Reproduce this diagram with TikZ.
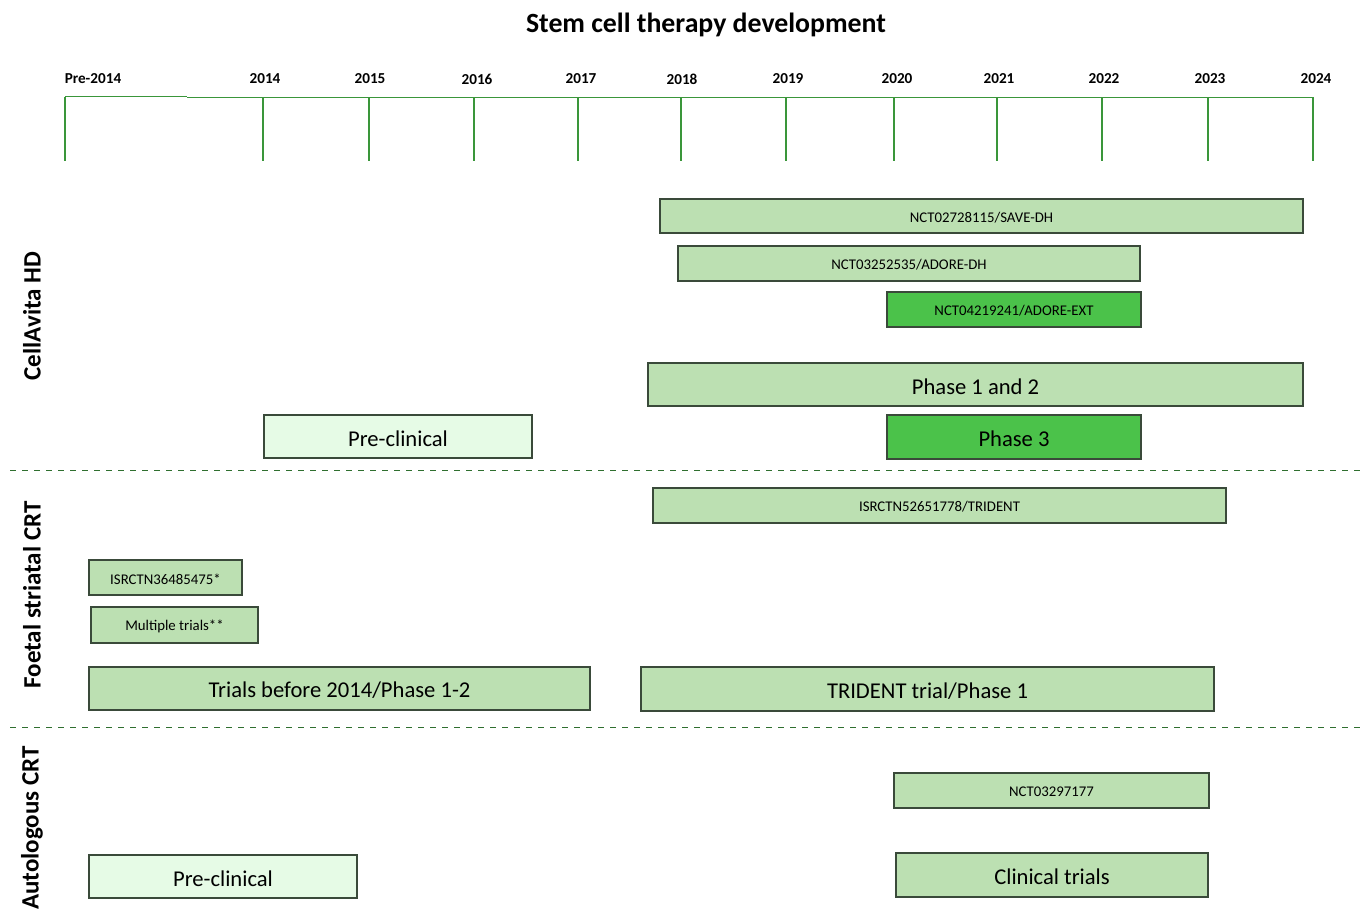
\documentclass[tikz,border=0pt]{standalone}
\usepackage{fontspec}
\setmainfont{Carlito}
\usepackage{tikz}
\usetikzlibrary{positioning,fit}

\definecolor{axisgreen}{HTML}{3A963A}
\definecolor{dashgreen}{HTML}{2F6F2F}
\definecolor{boxedge}{HTML}{3A4A3A}
\definecolor{paleG}{HTML}{BCE0B2}
\definecolor{midG}{HTML}{4BC24A}
\definecolor{faintG}{HTML}{E6FBE6}

\begin{document}
\begin{tikzpicture}[x=0.5pt,y=-0.5pt, line cap=butt, line join=miter]
	\useasboundingbox (0,0) rectangle (1364,922);
	
	% ===== styles =====
	\tikzset{
		seg/.style={draw=boxedge, line width=0.65pt, inner sep=0pt, fill=paleG},
		segdark/.style={seg, fill=midG},
		segfaint/.style={seg, fill=faintG},
		smalltxt/.style={font=\fontsize{7.4}{8.5}\selectfont, yshift=-0.8pt},
		bigtxt/.style={font=\fontsize{11.3}{13}\selectfont, yshift=-1pt},
		yearlab/.style={font=\bfseries\fontsize{7.6}{9}\selectfont},
		sidelab/.style={font=\bfseries\fontsize{12.5}{14}\selectfont, rotate=90},
		axis/.style={axisgreen, line width=0.6pt}
	}
	
	% ===== title =====
	\node[font=\bfseries\fontsize{13.9}{16}\selectfont] (title) at (706,25) {Stem cell therapy development};
	
	% ===== time axis =====
	\draw[axis] (65,96.5) -- (187,96.5);
	\draw[axis] (187,97.5) -- (1313,97.5);
	\foreach \x in {65,263,369,474,578,681,786,894,997,1102,1208,1313}{
		\draw[axis] (\x,97) -- (\x,161);
	}
	\foreach \x/\yr [count=\i] in {93/Pre-2014,265/2014,370/2015,477/2016,581/2017,682/2018,788/2019,897/2020,999/2021,1104/2022,1210/2023,1316/2024}{
		\node[yearlab] (yr\i) at (\x,79) {\yr};
	}
	
	% ===== row separators =====
	\draw[dashgreen, dashed, line width=0.5pt] (10,470) -- (1364,470);
	\draw[dashgreen, dashed, line width=0.5pt] (10,727) -- (1364,727);
	
	% ===== row labels =====
	\node[sidelab] (cellavita) at (32,316) {CellAvita HD};
	\node[sidelab] (foetal) at (32,595) {Foetal striatal CRT};
	\node[sidelab] (autolog) at (32,828) {Autologous CRT};
	
	% ===== CellAvita HD =====
	\node[seg, fit={(660,199) (1303,233)}, label={[smalltxt, name=savedhtxt]center:NCT02728115/SAVE-DH}] (savedh) {};
	\node[seg, fit={(678,246) (1140,281)}, label={[smalltxt, name=adoredhtxt]center:NCT03252535/ADORE-DH}] (adoredh) {};
	\node[segdark, fit={(887,292) (1141,327)}, label={[smalltxt, name=adoreexttxt]center:NCT04219241/ADORE-EXT}] (adoreext) {};
	\node[seg, fit={(648,363) (1303,406)}, label={[bigtxt, name=phaseonetwotxt]center:Phase 1 and 2}] (phaseonetwo) {};
	\node[segfaint, fit={(264,415) (532,458)}, label={[bigtxt, name=precliAtxt]center:Pre-clinical}] (precliA) {};
	\node[segdark, fit={(887,415) (1141,459)}, label={[bigtxt, name=phasethreetxt]center:Phase 3}] (phasethree) {};
	
	% ===== Foetal striatal CRT =====
	\node[seg, fit={(653,488) (1226,523)}, label={[smalltxt, name=tridenttxt]center:ISRCTN52651778/TRIDENT}] (trident) {};
	\node[seg, fit={(89,560) (242,595)}, label={[smalltxt, name=isrctntxt]center:ISRCTN36485475*}] (isrctn) {};
	\node[seg, fit={(91,607) (258,643)}, label={[smalltxt, name=multitxt]center:Multiple trials**}] (multi) {};
	\node[seg, fit={(89,667) (590,710)}, label={[bigtxt, name=beforetxt]center:Trials before 2014/Phase 1-2}] (before) {};
	\node[seg, fit={(641,667) (1214,711)}, label={[bigtxt, name=tridentphtxt]center:TRIDENT trial/Phase 1}] (tridentph) {};
	
	% ===== Autologous CRT =====
	\node[seg, fit={(894,773) (1209,808)}, label={[smalltxt, name=nctautotxt]center:NCT03297177}] (nctauto) {};
	\node[segfaint, fit={(89,855) (357,898)}, label={[bigtxt, name=precliBtxt]center:Pre-clinical}] (precliB) {};
	\node[seg, fit={(896,853) (1208,897)}, label={[bigtxt, name=clinicaltxt]center:Clinical trials}] (clinical) {};
\end{tikzpicture}
\end{document}
